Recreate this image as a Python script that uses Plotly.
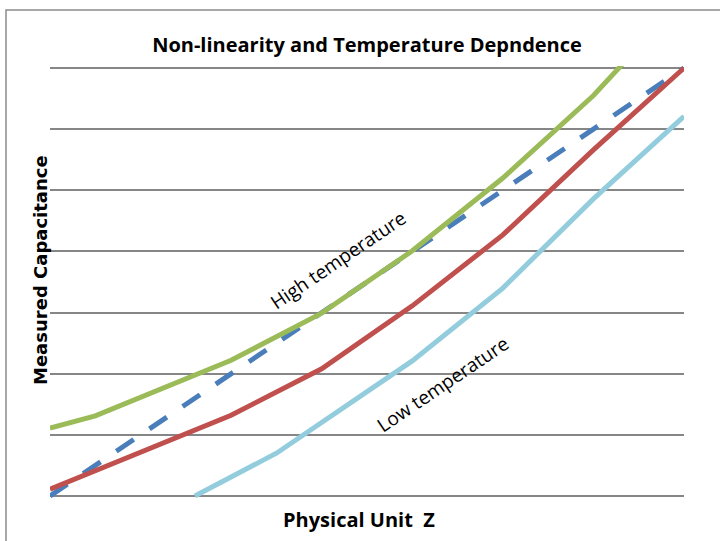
import plotly.graph_objects as go

# ---- data ----
linear_x = [0, 1, 2, 3, 4, 5, 6, 7]
linear_y = [0, 1, 2, 3, 4, 5, 6, 7]

high_x = [0, 0.5, 2, 3, 4, 5, 6, 7]
high_y = [1.11, 1.31, 2.22, 2.99, 4.01, 5.20, 6.55, 8.15]

mid_x = [0, 1, 2, 3, 4, 5, 6, 7]
mid_y = [0.11, 0.72, 1.32, 2.08, 3.11, 4.27, 5.66, 7.0]

low_x = [1.6, 2.5, 4, 5, 6, 7]
low_y = [0.0, 0.70, 2.21, 3.40, 4.86, 6.21]

title_text = "Non-linearity and Temperature Depndence"
x_title = "Physical Unit  Z"
y_title = "Measured Capacitance"

fig = go.Figure()
fig.add_trace(go.Scatter(x=linear_x, y=linear_y, mode="lines",
                         line=dict(color="#4A7EBB", width=5, dash="21px,19px"),
                         name="Linear"))
fig.add_trace(go.Scatter(x=high_x, y=high_y, mode="lines",
                         line=dict(color="#9BBB59", width=5), name="High"))
fig.add_trace(go.Scatter(x=mid_x, y=mid_y, mode="lines",
                         line=dict(color="#C0504D", width=5), name="Mid"))
fig.add_trace(go.Scatter(x=low_x, y=low_y, mode="lines",
                         line=dict(color="#93CDDD", width=5), name="Low"))

pad = 2.0 / (428 / 7)  # 2px of headroom so the edge grid lines are drawn

fig.update_layout(
    width=720, height=541,
    margin=dict(l=50, r=36, t=66, b=43),
    paper_bgcolor="white", plot_bgcolor="white",
    showlegend=False,
    title=dict(text=title_text, x=0.5, xref="paper", y=1 - 45 / 541,
               yref="container", xanchor="center", yanchor="middle",
               font=dict(family="Open Sans", size=20, color="black", weight="bold")),
    xaxis=dict(range=[0, 7], showgrid=False, zeroline=False, showline=False,
               showticklabels=False, ticks=""),
    yaxis=dict(range=[-pad, 7 + pad], tick0=0, dtick=1, showgrid=True,
               gridcolor="#868686", gridwidth=1.8, zeroline=False, showline=False,
               showticklabels=False, ticks=""),
    annotations=[
        dict(text=x_title, xref="paper", yref="paper", x=(359 - 50) / 634,
             y=-(519 - 498) / 432, showarrow=False, xanchor="center", yanchor="middle",
             font=dict(family="Open Sans", size=20, color="black", weight="bold")),
        dict(text=y_title, xref="paper", yref="paper", x=-(50 - 40) / 634,
             y=(498 - 270) / 432, showarrow=False, xanchor="center", yanchor="middle",
             textangle=-90,
             font=dict(family="DejaVu Sans", size=18, color="black", weight="bold")),
        dict(text="High temperature", x=3.18, y=3.86, xref="x", yref="y",
             showarrow=False, textangle=-34,
             font=dict(family="Open Sans", size=19, color="black")),
        dict(text="Low temperature", x=4.34, y=1.83, xref="x", yref="y",
             showarrow=False, textangle=-34,
             font=dict(family="Open Sans", size=19, color="black")),
    ],
    shapes=[
        dict(type="rect", xref="paper", yref="paper",
             x0=-(50 - 6) / 634, x1=1.2, y0=-0.2, y1=(498 - 10) / 432,
             line=dict(color="#8C8C8C", width=1.5), fillcolor="rgba(0,0,0,0)",
             layer="below"),
    ],
)

fig.write_html("out.html", config={"displayModeBar": False},
               post_script="document.body.style.margin='0px';document.body.style.overflow='hidden';")
